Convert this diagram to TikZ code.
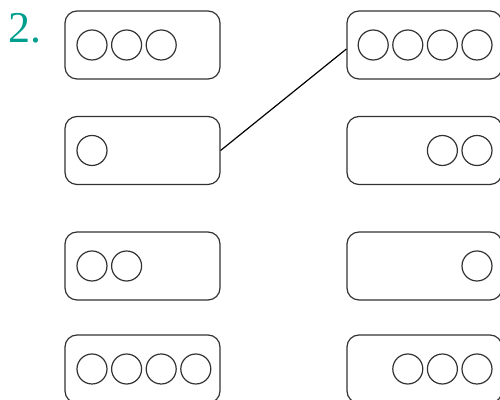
\documentclass[tikz,border=0pt]{standalone}
\usepackage{fontspec}
\setmainfont{Liberation Serif}
\usepackage{tikz}
\usetikzlibrary{positioning}
\definecolor{tealnum}{RGB}{0,158,142}
\definecolor{inkgray}{RGB}{50,50,50}

\begin{document}
\begin{tikzpicture}[x=0.5pt, y=-0.5pt,
  card/.style={draw=inkgray, line width=0.6pt, rounded corners=6pt, minimum width=77.5pt, minimum height=34pt, inner sep=0pt},
  dot/.style={circle, draw=inkgray, line width=0.6pt, minimum size=15pt, inner sep=0pt},
  num/.style={text=tealnum, font=\fontsize{22}{26}\selectfont, inner sep=0pt, anchor=base west},
  node distance=1.7pt]
\useasboundingbox (0,0) rectangle (500,400);
\node[num] (lbl) at (8.5,43) {2.};
% left column
\node[card] (l1) at (142.5,45) {};
\node[card] (l2) at (142.5,150.5) {};
\node[card] (l3) at (142.5,266) {};
\node[card] (l4) at (142.5,369) {};
\node[dot] (a1) at (92,45) {};
\node[dot, right=of a1] (a2) {};
\node[dot, right=of a2] (a3) {};
\node[dot] (b1) at (92,150.5) {};
\node[dot] (c1) at (92,266) {};
\node[dot, right=of c1] (c2) {};
\node[dot] (d1) at (92,369) {};
\node[dot, right=of d1] (d2) {};
\node[dot, right=of d2] (d3) {};
\node[dot, right=of d3] (d4) {};
% right column
\node[card] (r1) at (424.5,45) {};
\node[card] (r2) at (424.5,150.5) {};
\node[card] (r3) at (424.5,266) {};
\node[card] (r4) at (424.5,369) {};
\node[dot] (e4) at (477,45) {};
\node[dot, left=of e4] (e3) {};
\node[dot, left=of e3] (e2) {};
\node[dot, left=of e2] (e1) {};
\node[dot] (f2) at (477,150.5) {};
\node[dot, left=of f2] (f1) {};
\node[dot] (g1) at (477,266) {};
\node[dot] (h3) at (477,369) {};
\node[dot, left=of h3] (h2) {};
\node[dot, left=of h2] (h1) {};
% match
\draw[line width=0.6pt] (l2.east) -- ([yshift=-2pt]r1.west);
\end{tikzpicture}
\end{document}
